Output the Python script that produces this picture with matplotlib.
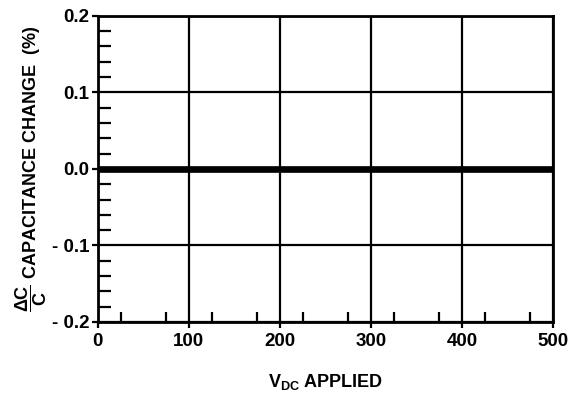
import matplotlib
matplotlib.use('Agg')
import matplotlib.pyplot as plt
import numpy as np

# ---- data ----
v_applied = [0, 100, 200, 300, 400, 500]
cap_change = [0.0, 0.0, 0.0, 0.0, 0.0, 0.0]
x_ticks = [0, 100, 200, 300, 400, 500]
y_ticks = [-0.2, -0.1, 0.0, 0.1, 0.2]
y_tick_labels = ['- 0.2', '- 0.1', '0.0', '0.1', '0.2']

plt.rcParams['font.family'] = 'Liberation Sans'
plt.rcParams['font.weight'] = 'bold'
plt.rcParams['mathtext.fontset'] = 'custom'
plt.rcParams['mathtext.rm'] = 'Liberation Sans:bold'
plt.rcParams['mathtext.it'] = 'Liberation Sans:bold'
plt.rcParams['mathtext.bf'] = 'Liberation Sans:bold'

fig = plt.figure(figsize=(5.69, 3.96), dpi=100)
ax = fig.add_axes([0.172, 0.187, 0.800, 0.773])

ax.plot(v_applied, cap_change, color='black', lw=4.8, solid_capstyle='butt', zorder=3)

ax.set_xlim(0, 500)
ax.set_ylim(-0.2, 0.2)
ax.set_xticks(x_ticks)
ax.set_yticks(y_ticks)
ax.set_yticklabels(y_tick_labels)
ax.set_xticks([25, 75, 125, 175, 225, 275, 325, 375, 425, 475], minor=True)
ax.set_yticks(np.arange(-0.18, 0.2, 0.02), minor=True)

ax.grid(True, which='major', color='black', lw=1.6)
ax.tick_params(which='major', direction='out', length=4, width=1.6,
               labelsize=13.5)
ax.tick_params(axis='x', which='major', pad=4)
ax.tick_params(axis='y', which='major', pad=2)
ax.tick_params(axis='y', which='minor', direction='in', length=9, width=1.6)
ax.tick_params(axis='x', which='minor', direction='in', length=7, width=1.6)
for lab in ax.get_xticklabels() + ax.get_yticklabels():
    lab.set_fontweight('bold')
for sp in ax.spines.values():
    sp.set_linewidth(2)

ax.set_xlabel(r'$\mathbf{V_{DC}}$ APPLIED', fontsize=13, fontweight='bold',
              labelpad=16)
ax.set_ylabel(r'$\mathbf{\dfrac{\Delta C}{C}}$ CAPACITANCE CHANGE  (%)',
              fontsize=13, fontweight='bold', labelpad=2)

fig.savefig('out.png', dpi=100)
